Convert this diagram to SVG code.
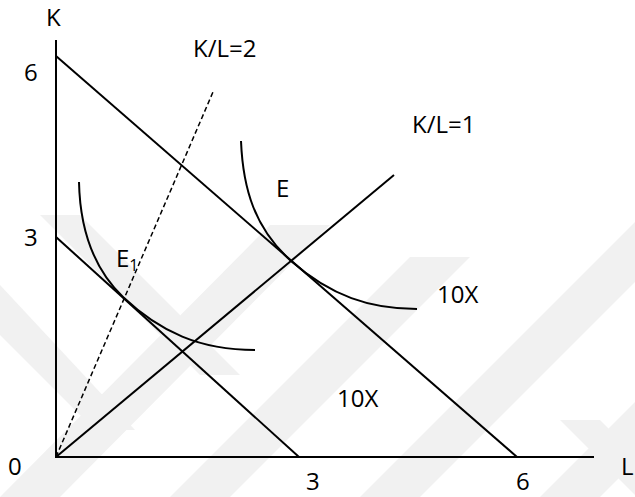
<svg xmlns="http://www.w3.org/2000/svg" width="635" height="497" viewBox="0 0 635 497">
<style>
.ln{stroke:#000;stroke-width:2;fill:none}
.ds{stroke:#000;stroke-width:1.5;fill:none;stroke-dasharray:5,3}
.t{font-family:"Open Sans","Liberation Sans",sans-serif;font-size:24px;fill:#000}
.s{font-family:"Open Sans","Liberation Sans",sans-serif;font-size:16px;fill:#000}
.wm{fill:#f1f1f1}
</style>
<rect width="635" height="497" fill="#fff"/>
<g id="watermark">
<polygon class="wm" points="0,285 0,335 95,430 135,430"/>
<polygon class="wm" points="40,215 80,215 240,375 200,375"/>
<polygon class="wm" points="0,497 60,497 330,225 270,225"/>
<polygon class="wm" points="170,497 230,497 470,257 410,257"/>
<polygon class="wm" points="360,497 420,497 635,282 635,222"/>
<polygon class="wm" points="540,497 600,497 635,462 635,402"/>
<polygon class="wm" points="560,420 600,420 635,455 635,495"/>
</g>
<g id="axes">
<line class="ln" x1="56" y1="40" x2="56" y2="457"/>
<line class="ln" x1="55" y1="457" x2="594" y2="457"/>
</g>
<g id="connectors">
<line class="ln" x1="56" y1="56" x2="517" y2="457"/>
<line class="ln" x1="56" y1="237" x2="299" y2="457"/>
<line class="ln" x1="56" y1="457" x2="394" y2="175"/>
<line class="ds" x1="56" y1="457" x2="213" y2="92"/>
</g>
<g id="curve-E">
<path class="ln" d="M241,141 C243,190 255,228 291,261 C331,296 370,309 417,309"/>
</g>
<g id="curve-E1">
<path class="ln" d="M79,182 C80,230 95,270 123,297 C160,332 200,350 255,350"/>
</g>
<g id="labels">
<text class="t" x="46" y="26">K</text>
<text class="t" x="24" y="81">6</text>
<text class="t" x="24" y="246">3</text>
<text class="t" x="8" y="475">0</text>
<text class="t" x="306" y="490">3</text>
<text class="t" x="516" y="490">6</text>
<text class="t" x="621" y="475">L</text>
<text class="t" x="193" y="57">K/L=2</text>
<text class="t" x="412" y="133">K/L=1</text>
<text class="t" x="276" y="197">E</text>
<text class="t" x="116" y="267">E<tspan class="s" dy="4">1</tspan></text>
<text class="t" x="437" y="303">10X</text>
<text class="t" x="337" y="407">10X</text>
</g>
</svg>
